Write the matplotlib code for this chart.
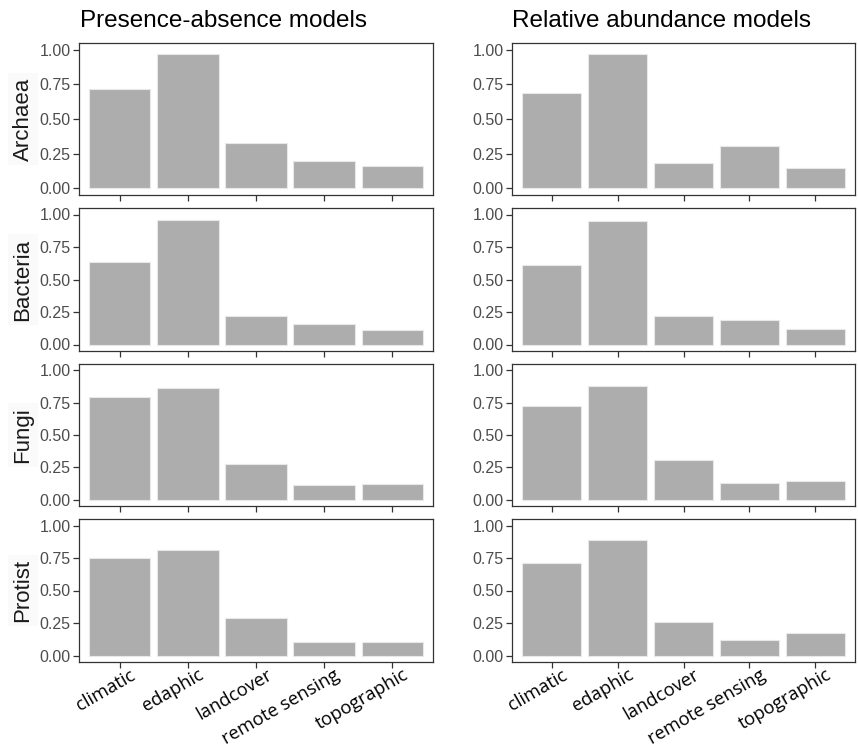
import matplotlib
matplotlib.use("Agg")
from matplotlib import pyplot
from matplotlib.transforms import ScaledTranslation

# predictor groups, taxa and the importance values
groups = ["climatic", "edaphic", "landcover", "remote sensing", "topographic"]
taxa = ["Archaea", "Bacteria", "Fungi", "Protist"]

presence_absence = {
    "Archaea":  [0.714, 0.969, 0.329, 0.199, 0.158],
    "Bacteria": [0.636, 0.959, 0.221, 0.159, 0.108],
    "Fungi":    [0.792, 0.862, 0.279, 0.110, 0.121],
    "Protist":  [0.752, 0.813, 0.286, 0.104, 0.104],
}
relative_abundance = {
    "Archaea":  [0.688, 0.971, 0.180, 0.306, 0.144],
    "Bacteria": [0.610, 0.949, 0.218, 0.187, 0.120],
    "Fungi":    [0.726, 0.877, 0.303, 0.128, 0.144],
    "Protist":  [0.708, 0.890, 0.261, 0.117, 0.174],
}
columns = [("Presence-absence models", presence_absence),
           ("Relative abundance models", relative_abundance)]

W, H = 858, 748
fig = pyplot.figure(figsize=(W / 100, H / 100), dpi=100)

# panel boxes in pixels (left, right) and (top, bottom)
col_x = [(79, 433), (512, 855)]
row_y = [(43, 195), (208, 351), (364, 506), (519, 662)]
title_x = [224, 662]


def px(x0, x1, y0, y1):
    return [x0 / W, 1 - y1 / H, (x1 - x0) / W, (y1 - y0) / H]


# rotated category labels sit a little right of / below each tick
shift = ScaledTranslation(10 / 100, -4 / 100, fig.dpi_scale_trans)

for c, (title, data) in enumerate(columns):
    fig.text(title_x[c] / W, 1 - 21 / H, title, ha="center", va="center",
             fontsize=17.5, family="Liberation Sans", color="black")
    for r, taxon in enumerate(taxa):
        x0, x1 = col_x[c]
        y0, y1 = row_y[r]
        ax = fig.add_axes(px(x0, x1, y0, y1))
        pos = list(range(1, len(groups) + 1))
        ax.bar(pos, data[taxon], width=0.9, color="#adadad",
               edgecolor="#e8e8e8", linewidth=0.8)
        ax.set_xlim(0.4, 5.6)
        ax.set_ylim(-0.05, 1.05)
        ax.set_yticks([0, 0.25, 0.5, 0.75, 1.0])
        ax.set_yticklabels(["0.00", "0.25", "0.50", "0.75", "1.00"],
                           family="Liberation Sans", fontsize=11.5, color="#4d4d4d")
        ax.set_xticks(pos)
        ax.set_xticklabels([])
        if r == len(taxa) - 1:
            for p, g in zip(pos, groups):
                ax.text(p, 0, g, rotation=30, ha="right", va="top",
                        rotation_mode="anchor", family="Open Sans",
                        fontsize=13.2, color="black",
                        transform=ax.get_xaxis_transform() + shift)
        ax.tick_params(length=4, width=0.9, color="#333333", pad=2)
        for s in ax.spines.values():
            s.set_color("#333333")
            s.set_linewidth(0.9)
        if c == 0:
            fig.text(23 / W, 1 - ((y0 + y1) / 2) / H, taxon, rotation=90,
                     ha="center", va="center", fontsize=16,
                     family="Liberation Sans", color="#1a1a1a",
                     bbox=dict(facecolor="#fafafa", edgecolor="none", pad=3))

fig.savefig("out.png", dpi=100)
